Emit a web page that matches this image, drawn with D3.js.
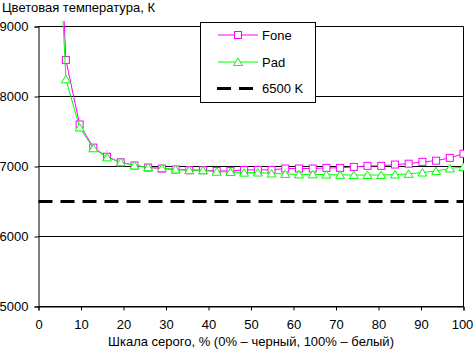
<!DOCTYPE html>
<html><head><meta charset="utf-8">
<script src="https://cdn.jsdelivr.net/npm/d3@7/dist/d3.min.js"></script>
<style>body{margin:0;background:#fff}svg{display:block}text{font-family:Arial,"Liberation Sans",sans-serif;font-size:13px;fill:#000}</style>
</head><body>
<script>
const steps = d3.range(1, 32); // gray levels i/31
const xValues = steps.map(i => i / 31 * 100);
const fone = [12800, 8520, 7600, 7270, 7140, 7060, 7015, 6985, 6970, 6957, 6947, 6947, 6937, 6937, 6950, 6952, 6952, 6971, 6971, 6971, 6980, 6980, 6994, 7009, 7009, 7028, 7040, 7066, 7083, 7123, 7183];
const pad  = [12200, 8245, 7557, 7260, 7130, 7060, 7015, 6990, 6978, 6957, 6947, 6945, 6925, 6922, 6912, 6914, 6900, 6894, 6886, 6888, 6884, 6880, 6878, 6878, 6878, 6885, 6895, 6914, 6935, 6972, 6992];
const reference = 6500;
const xTicks = [0, 10, 20, 30, 40, 50, 60, 70, 80, 90, 100];
const yTicks = [5000, 6000, 7000, 8000, 9000];
const seriesNames = ["Fone", "Pad", "6500 K"];
const colors = ["#ff00ff", "#00ff00", "#000000"];

const W = 473, H = 349;
const svg = d3.select("body").append("svg").attr("width", W).attr("height", H);
const x = d3.scaleLinear().domain([0, 100]).range([38.5, 463.5]);
const y = d3.scaleLinear().domain([5000, 9000]).range([306.5, 26.5]);

svg.append("defs").append("clipPath").attr("id", "clip")
  .append("rect").attr("x", 38).attr("y", 21).attr("width", 426).attr("height", 286);

// gridlines
svg.append("g").selectAll("line").data(yTicks).join("line")
  .attr("x1", x(0)).attr("x2", x(100)).attr("y1", d => y(d)).attr("y2", d => y(d))
  .attr("stroke", "#000").attr("stroke-width", 1);

// right border
svg.append("line").attr("x1", x(100)).attr("x2", x(100)).attr("y1", y(9000)).attr("y2", y(5000)).attr("stroke", "#000");

// axes
const yAxis = svg.append("g").attr("transform", `translate(${x(0)},0)`)
  .call(d3.axisLeft(y).tickValues(yTicks).tickSize(4).tickPadding(6).tickFormat(d3.format("d")));
const xAxis = svg.append("g").attr("transform", `translate(0,${y(5000)})`)
  .call(d3.axisBottom(x).tickValues(xTicks).tickSize(4).tickPadding(9).tickFormat(d3.format("d")));
[yAxis, xAxis].forEach(a => {
  a.select(".domain").attr("stroke", "#000");
  a.selectAll(".tick line").attr("stroke", "#000");
  a.selectAll("text").style("font-family", "Arial, 'Liberation Sans', sans-serif").style("font-size", "13px").attr("fill", "#000");
});
xAxis.selectAll(".tick text").filter(d => d === 100).attr("dx", "-1.5");

// reference line
svg.append("line").attr("x1", x(0)).attr("x2", x(100)).attr("y1", y(reference)).attr("y2", y(reference))
  .attr("stroke", "#000").attr("stroke-width", 3).attr("stroke-dasharray", "14,8");

const line = d3.line().x((d, i) => x(xValues[i])).y(d => y(d));
const plot = svg.append("g").attr("clip-path", "url(#clip)");

function square(g, cx, cy, c) {
  g.append("rect").attr("x", cx - 3.5).attr("y", cy - 3.5).attr("width", 7).attr("height", 7)
    .attr("fill", "#fff").attr("stroke", c).attr("stroke-width", 1);
}
function triangle(g, cx, cy, c) {
  g.append("path").attr("d", `M${cx},${cy - 4}L${cx + 4.5},${cy + 3.5}L${cx - 4.5},${cy + 3.5}Z`)
    .attr("fill", "#fff").attr("stroke", c).attr("stroke-width", 1);
}

[[fone, colors[0], square], [pad, colors[1], triangle]].forEach(([data, c, mk]) => {
  plot.append("path").datum(data).attr("d", line).attr("fill", "none").attr("stroke", c).attr("stroke-width", 1);
  const mg = plot.append("g");
  data.forEach((v, i) => { if (v <= 9000) mk(mg, x(xValues[i]), y(v), c); });
});

// title & axis label
svg.append("text").attr("x", 2).attr("y", 11.5).text("Цветовая температура, К");
svg.append("text").attr("x", (x(0) + x(100)) / 2).attr("y", 346).attr("text-anchor", "middle")
  .text("Шкала серого, % (0% – черный, 100% – белый)");

// legend
const lg = svg.append("g");
lg.append("rect").attr("x", 200.5).attr("y", 22.5).attr("width", 115).attr("height", 80)
  .attr("fill", "#fff").attr("stroke", "#000");
const ly = [35, 62, 88.5];
lg.append("line").attr("x1", 218).attr("x2", 258).attr("y1", ly[0]).attr("y2", ly[0]).attr("stroke", colors[0]);
square(lg, 238, ly[0], colors[0]);
lg.append("line").attr("x1", 218).attr("x2", 258).attr("y1", ly[1]).attr("y2", ly[1]).attr("stroke", colors[1]);
triangle(lg, 238, ly[1], colors[1]);
lg.append("line").attr("x1", 217).attr("x2", 254).attr("y1", ly[2]).attr("y2", ly[2]).attr("stroke", "#000")
  .attr("stroke-width", 3).attr("stroke-dasharray", "14,8");
seriesNames.forEach((n, i) => lg.append("text").attr("x", 262).attr("y", ly[i] + 4.5).text(n));
</script>
</body></html>
